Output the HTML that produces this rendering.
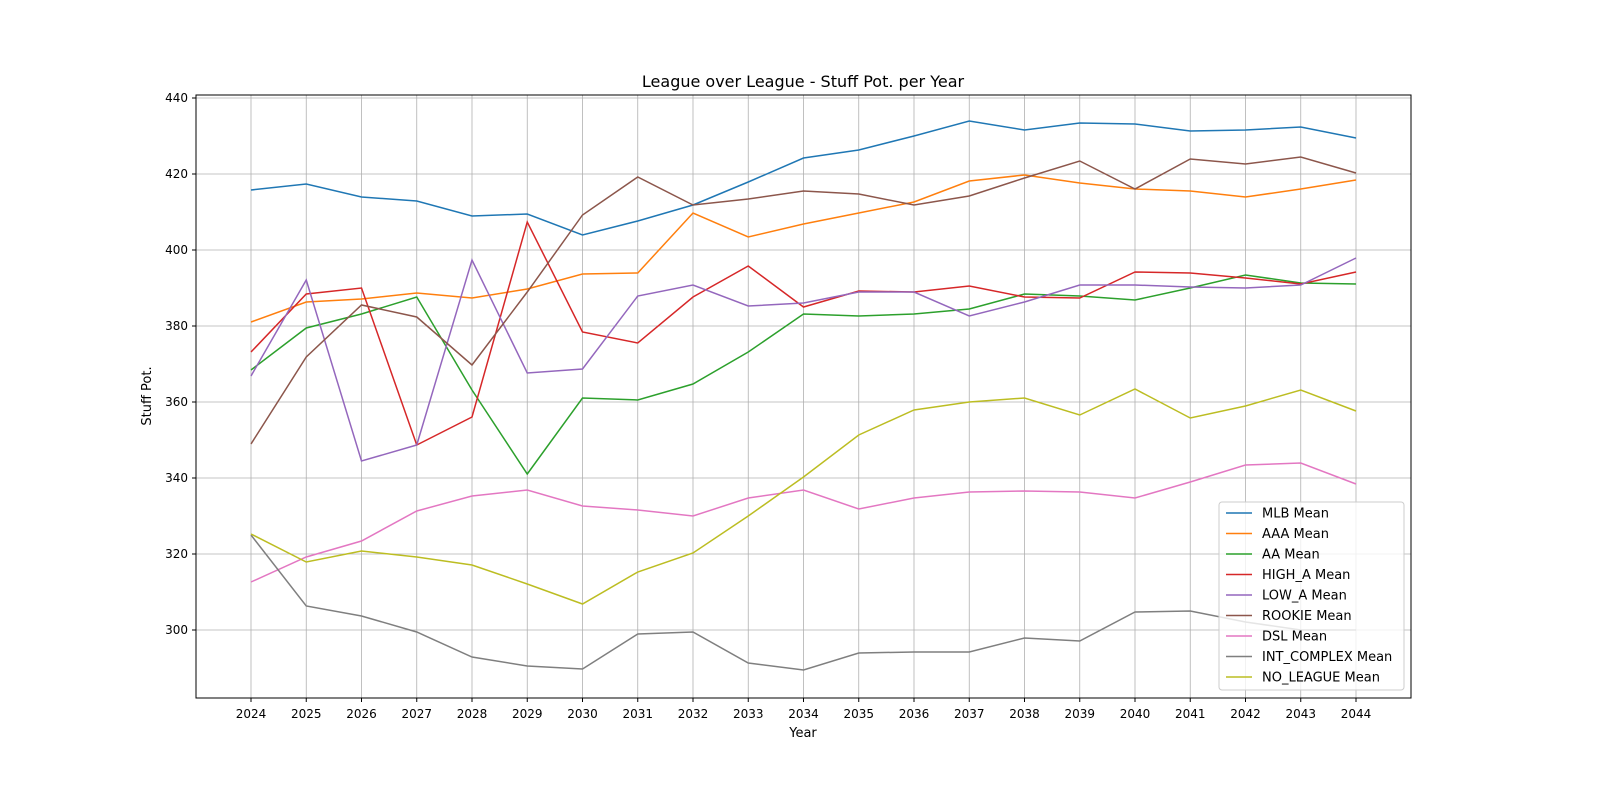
<!DOCTYPE html>
<html><head><style>body{margin:0;background:#fff}svg{display:block;font-family:"DejaVu Sans","Liberation Sans",sans-serif}</style></head><body>
<svg width="1600" height="800" xmlns="http://www.w3.org/2000/svg">
<rect width="1600" height="800" fill="#fff"/>
<g id="grid" stroke="#b0b0b0" stroke-width="0.8"></g>
<g id="series" fill="none" stroke-width="1.5"></g>
<rect x="196" y="95" width="1215" height="603" fill="none" stroke="#000" stroke-width="1"/>
<g id="ticks" font-size="12" fill="#000"></g>
<text x="803" y="87" font-size="16" text-anchor="middle">League over League - Stuff Pot. per Year</text>
<text x="803" y="737" font-size="13" text-anchor="middle">Year</text>
<text transform="translate(151,396) rotate(-90)" font-size="13" text-anchor="middle">Stuff Pot.</text>
<g id="legend"></g>
<script>
const NS="http://www.w3.org/2000/svg";
function el(t,a,p,txt){const e=document.createElementNS(NS,t);for(const k in a)e.setAttribute(k,a[k]);if(txt!=null)e.textContent=txt;p.appendChild(e);return e;}
const X=i=>251+i*55.25;
const g=document.getElementById('grid'),tk=document.getElementById('ticks'),sr=document.getElementById('series'),lg=document.getElementById('legend');
for(let i=0;i<=20;i++){el('line',{x1:X(i),x2:X(i),y1:95,y2:698},g);el('line',{x1:X(i),x2:X(i),y1:698,y2:702,stroke:'#000'},tk);el('text',{x:X(i),y:718,'text-anchor':'middle'},tk,2024+i);}
for(let v=300;v<=440;v+=20){const y=98+(440-v)*3.8;el('line',{x1:196,x2:1411,y1:y,y2:y},g);el('line',{x1:192,x2:196,y1:y,y2:y,stroke:'#000'},tk);el('text',{x:188,y:y+4,'text-anchor':'end'},tk,v);}
const S=[
["MLB Mean","#1f77b4",[190,184,197,201,216,214,235,221,205,182,158,150,136,121,130,123,124,131,130,127,138]],
["AAA Mean","#ff7f0e",[322,302,299,293,298,289,274,273,213,237,224,213,202,181,175,183,189,191,197,189,180]],
["AA Mean","#2ca02c",[370,328,314,297,390,474,398,400,384,352,314,316,314,309,294,296,300,288,275,283,284]],
["HIGH_A Mean","#d62728",[352,294,288,445,417,222,332,343,297,266,307,291,292,286,297,298,272,273,278,284,272]],
["LOW_A Mean","#9467bd",[376,280,461,445,260,373,369,296,285,306,303,292,292,316,302,285,285,287,288,285,258]],
["ROOKIE Mean","#8c564b",[444,357,305,317,365,292,215,177,205,199,191,194,205,196,178,161,189,159,164,157,173]],
["DSL Mean","#e377c2",[582,557,541,511,496,490,506,510,516,498,490,509,498,492,491,492,498,482,465,463,484]],
["INT_COMPLEX Mean","#7f7f7f",[535,606,616,632,657,666,669,634,632,663,670,653,652,652,638,641,612,611,622,630,630]],
["NO_LEAGUE Mean","#bcbd22",[534,562,551,557,565,584,604,572,553,516,477,435,410,402,398,415,389,418,406,390,411]]];
S.forEach(s=>el('polyline',{points:s[2].map((y,i)=>X(i)+','+y).join(' '),stroke:s[1]},sr));
el('rect',{x:1219,y:502,width:185,height:188,rx:3,fill:'#fff','fill-opacity':0.8,stroke:'#ccc'},lg);
S.forEach((s,i)=>{const y=513+i*20.5;el('line',{x1:1226,x2:1252,y1:y,y2:y,stroke:s[1],'stroke-width':1.5},lg);el('text',{x:1262,y:y+4.5,'font-size':13},lg,s[0]);});
</script>
</svg>
</body></html>
